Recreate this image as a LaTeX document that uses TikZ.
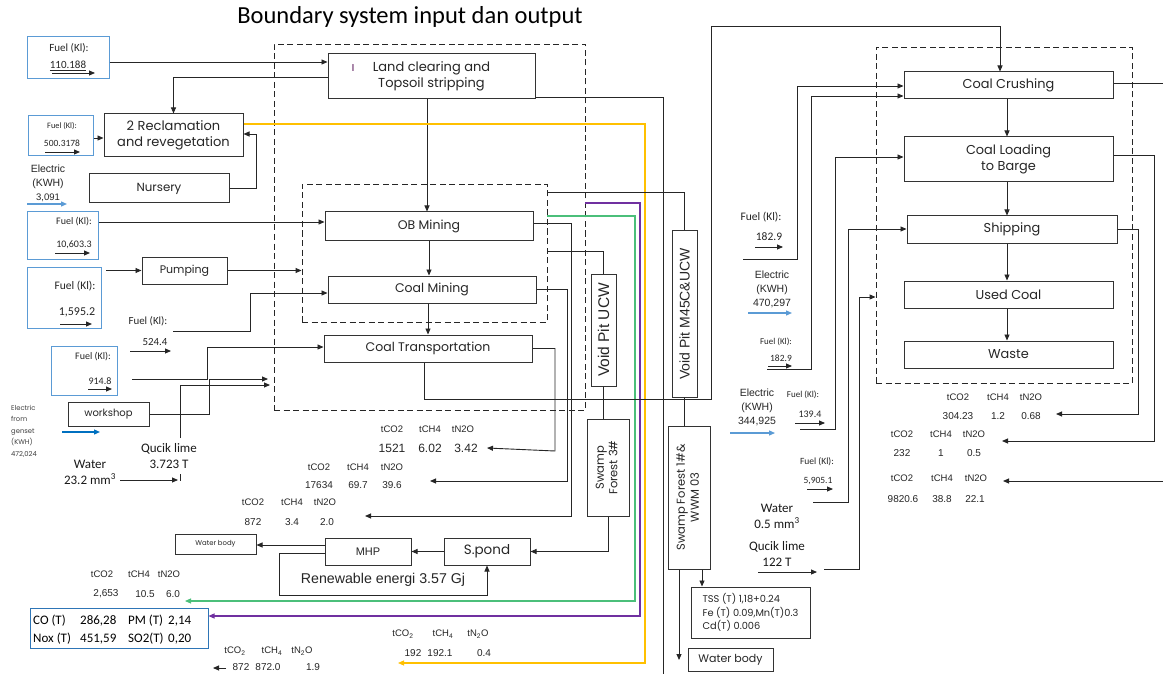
\documentclass[tikz,border=0pt]{standalone}
\usepackage{fontspec}
\usepackage{graphicx}
\setmainfont{Carlito}
\newfontfamily\gothic{Poppins}
\newfontfamily\arial{Liberation Sans}
\usetikzlibrary{arrows.meta}

\definecolor{inblue}{HTML}{5B9BD5}
\definecolor{gensetblue}{HTML}{0070C0}
\definecolor{embox}{HTML}{2E75B6}
\definecolor{flowyellow}{HTML}{FFC000}
\definecolor{flowgreen}{HTML}{4BBF7A}
\definecolor{flowpurple}{HTML}{7030A0}

\tikzset{
  ln/.style={draw=black!85, line width=0.9pt},
  arr/.style={ln, -{Triangle[length=6pt,width=5pt]}},
  box/.style={draw=black!80, line width=1pt, inner sep=1pt, align=center,
    font=\gothic\fontsize{12.5}{15}\selectfont, text=black!85},
  fuelbox/.style={draw=inblue, line width=1pt, inner sep=0pt},
  zone/.style={draw=black!85, line width=0.9pt, dash pattern=on 6pt off 3.5pt, inner sep=0pt},
  lbl/.style={inner sep=0pt, font=\fontsize{10}{11}\selectfont, text=black!85},
  big/.style={inner sep=0pt, font=\fontsize{13}{15}\selectfont, text=black!90, align=center},
  em/.style={inner sep=0pt, font=\arial\fontsize{9.5}{11}\selectfont, text=black!85},
  emv/.style={inner sep=0pt, font=\arial\fontsize{10}{11}\selectfont, text=black!85},
  elec/.style={inner sep=0pt, align=center, font=\arial\fontsize{10.5}{14}\selectfont, text=black!85},
  bluearr/.style={draw=inblue, line width=1.2pt, -{Triangle[length=6pt,width=5pt]}},
  colarr/.style={line width=1.1pt, -{Triangle[length=6pt,width=5pt]}},
}

\begin{document}
\begin{tikzpicture}[x=1pt,y=-1pt]
\fill[white] (0,0) rectangle (1163,674);
\useasboundingbox (0,0) rectangle (1163,674);

% ---------- title ----------
\node[font=\fontsize{24.5}{28}\selectfont] (title) at (410,17) {Boundary system input dan output};

% ---------- system boundaries ----------
\node[zone, minimum width=311, minimum height=366] (outer) at (429.5,227) {};
\node[zone, minimum width=245, minimum height=138] (inner) at (424.5,253) {};
\node[zone, minimum width=256, minimum height=336] (rzone) at (1004,215) {};

% ---------- mining process boxes ----------
\node[box, minimum width=207, minimum height=45, font=\gothic\fontsize{13}{16}\selectfont] (land) at (431.5,76.5) {Land clearing and\\Topsoil stripping};
\node[inner sep=0pt, font=\gothic\fontsize{10}{10}\selectfont, text=violet!60!black] (mark) at (353,68) {I};
\node[box, minimum width=139, minimum height=43, font=\gothic\fontsize{13}{16}\selectfont] (recl) at (173.5,135.5) {2 Reclamation\\and revegetation};
\node[box, minimum width=140, minimum height=29, font=\gothic\fontsize{11.8}{14}\selectfont] (nursery) at (159,188.5) {Nursery};
\node[box, minimum width=85, minimum height=27, font=\gothic\fontsize{11}{14}\selectfont] (pump) at (184.5,270.5) {Pumping};
\node[box, minimum width=81, minimum height=24, font=\gothic\fontsize{10}{12}\selectfont] (workshop) at (108.5,414) {workshop};
\node[box, minimum width=208, minimum height=28] (ob) at (429,226) {OB Mining};
\node[box, minimum width=208, minimum height=27] (cm) at (432,289.5) {Coal Mining};
\node[box, minimum width=208, minimum height=27] (ct) at (428,348.5) {Coal Transportation};

\node[box, minimum width=25, minimum height=112, font=\arial\fontsize{15.5}{17}\selectfont] (vpu) at (603.5,330) {\rotatebox{90}{Void Pit UCW}};
\node[box, minimum width=42, minimum height=97, font=\gothic\fontsize{11.5}{13.5}\selectfont] (sf3) at (608,467.5)
  {\rotatebox{90}{\begin{tabular}{@{}c@{}}Swamp\\Forest 3\#\end{tabular}}};
\node[box, minimum width=86, minimum height=27, font=\gothic\fontsize{13.5}{15}\selectfont] (spond) at (487,551.5) {S.pond};
\node[box, minimum width=86, minimum height=27, font=\arial\fontsize{11}{13}\selectfont] (mhp) at (368,551.5) {MHP};
\node[box, minimum width=81, minimum height=20, font=\gothic\fontsize{6.9}{8}\selectfont] (wb1) at (215.5,544) {Water body};

\node[box, minimum width=25, minimum height=166, font=\arial\fontsize{14}{16}\selectfont] (vpm) at (684.5,314) {\rotatebox{90}{Void Pit M45C\&UCW}};
\node[box, minimum width=42, minimum height=143, font=\gothic\fontsize{11.5}{14}\selectfont] (sf1) at (689,497.5)
  {\rotatebox{90}{\begin{tabular}{@{}c@{}}Swamp Forest 1\#\&\\WWM 03\end{tabular}}};
\node[box, minimum width=119, minimum height=51, font=\gothic\fontsize{9.8}{13.5}\selectfont, align=left] (tss) at (750.5,612.5)
  {TSS (T) 1,18+0.24\\Fe (T) 0.09,Mn(T)0.3\\Cd(T) 0.006};
\node[box, minimum width=85, minimum height=23, font=\gothic\fontsize{11}{12}\selectfont] (wb2) at (730.5,659.5) {Water body};

% ---------- port / shipping boxes ----------
\node[box, minimum width=209, minimum height=27, font=\gothic\fontsize{12.9}{15}\selectfont] (cc) at (1008.5,85.5) {Coal Crushing};
\node[box, minimum width=209, minimum height=45, font=\gothic\fontsize{12.9}{15.5}\selectfont] (cl) at (1008.5,159.5) {Coal Loading\\to Barge};
\node[box, minimum width=210, minimum height=27, font=\gothic\fontsize{12.9}{15}\selectfont] (ship) at (1012,229.5) {Shipping};
\node[box, minimum width=209, minimum height=27, font=\gothic\fontsize{12.9}{15}\selectfont] (used) at (1008.5,294.5) {Used Coal};
\node[box, minimum width=209, minimum height=27, font=\gothic\fontsize{12.9}{15}\selectfont] (waste) at (1008.5,354.5) {Waste};

% ---------- fuel input boxes (left) ----------
\node[fuelbox, minimum width=82, minimum height=42] (fuelA) at (68,58) {};
\node[lbl, font=\fontsize{11}{12}\selectfont] (fuelAt) at (69,48) {Fuel (Kl):};
\node[lbl, font=\fontsize{11}{12}\selectfont] (fuelAv) at (68,66) {\underline{110.188}};
\draw[arr] (52,73) -- (95,73);

\node[fuelbox, minimum width=65, minimum height=40] (fuelB) at (60.5,136) {};
\node[lbl, font=\fontsize{8.3}{9}\selectfont] (fuelBt) at (62,126) {Fuel (Kl):};
\node[lbl, font=\fontsize{9.5}{10}\selectfont] (fuelBv) at (62,143) {500.3178};
\draw[arr] (45,152) -- (80,152);

\node[fuelbox, minimum width=71, minimum height=47] (fuelC) at (62.5,235.5) {};
\node[lbl] (fuelCt) at (74,222) {Fuel (Kl):};
\node[lbl] (fuelCv) at (74,245) {10,603.3};
\draw[arr] (55,253) -- (90,253);

\node[fuelbox, minimum width=74, minimum height=61] (fuelD) at (64,297.5) {};
\node[lbl, font=\fontsize{11.5}{13}\selectfont] (fuelDt) at (75,286) {Fuel (Kl):};
\node[lbl, font=\fontsize{12}{13}\selectfont] (fuelDv) at (77,312) {1,595.2};
\draw[arr] (60,324) -- (92,324);

\node[lbl, font=\fontsize{10.9}{12}\selectfont] (fuelFt) at (148,321) {Fuel (Kl):};
\node[lbl, font=\fontsize{10.9}{12}\selectfont] (fuelFv) at (155,342) {524.4};
\draw[arr] (130,351) -- (171,351);

\node[fuelbox, minimum width=66, minimum height=49] (fuelE) at (84,370.5) {};
\node[lbl] (fuelEt) at (93,357) {Fuel (Kl):};
\node[lbl] (fuelEv) at (100,381) {914.8};
\draw[arr] (88,389) -- (112,389);

% electricity and other inputs (left)
\node[elec] (elecL) at (48,183) {Electric\\(KWH)\\\fontsize{9.5}{10}\selectfont 3,091};
\draw[bluearr] (27,204) -- (67,204);
\node[inner sep=0pt, anchor=north west, align=left, font=\gothic\fontsize{6.8}{11.5}\selectfont, text=black!75] (genset) at (11,405)
  {Electric\\from\\genset\\(KWH)\\472,024};
\draw[draw=gensetblue, line width=1.2pt, -{Triangle[length=6pt,width=5pt]}] (62,432) -- (100,432);
\node[big] (limeL) at (169,456) {Qucik lime\\[1pt]3.723 T};
\node[big] (waterL) at (90,472) {Water\\[1pt]23.2 mm\textsuperscript{3}};

% ---------- connectors: inputs to mining ----------
\draw[arr] (fuelA.east |- 0,62) -- (land.west |- 0,62);
\draw[arr] (land.west |- 0,77) -| (recl.north);
\draw[arr] (fuelB.east |- 0,138) -- (recl.west |- 0,138);
\draw[arr] (nursery.east) -- (256,188.5) |- (recl.east |- 0,134);
\draw[arr] (fuelC.east |- 0,222) -- (ob.west |- 0,222);
\draw[arr] (106,270.5) -- (pump.west);
\draw[arr] (pump.east) -- (inner.west |- pump.east);
\draw[arr] (173,331) -- (250,331) |- (cm.west |- 0,293);
\draw[arr] (132,379) -- (207,379) |- (ct.west |- 0,347);
\draw[arr] (workshop.east) -- (209,414) |- (268,379);
\draw[arr] (180,438) |- (270,385);
\draw[arr] (120,480) -- (178,480);
\draw[ln] (180,474) -- (180,481);

% ---------- connectors: mining chain ----------
\draw[arr] (land.south -| 427,0) -- (ob.north -| 427,0);
\draw[arr] (ob.south) -- (ob.south |- cm.north);
\draw[arr] (ct.north |- cm.south) -- (ct.north);

% ---------- emissions from mining ----------
\node[em] (e1a) at (392,429) {tCO2};
\node[em] (e1b) at (430,429) {tCH4};
\node[em] (e1c) at (463,429) {tN2O};
\node[emv, font=\arial\fontsize{12}{13}\selectfont] (e1d) at (392,448) {1521};
\node[emv, font=\arial\fontsize{12}{13}\selectfont] (e1e) at (430,448) {6.02};
\node[emv, font=\arial\fontsize{12}{13}\selectfont] (e1f) at (466,448) {3.42};

\node[em] (e2a) at (319,467) {tCO2};
\node[em] (e2b) at (358,467) {tCH4};
\node[em] (e2c) at (392,467) {tN2O};
\node[emv] (e2d) at (319,485) {17634};
\node[emv] (e2e) at (358,485) {69.7};
\node[emv] (e2f) at (392,485) {39.6};

\node[em] (e3a) at (253,502) {tCO2};
\node[em] (e3b) at (292,502) {tCH4};
\node[em] (e3c) at (325,502) {tN2O};
\node[emv] (e3d) at (253,522) {872};
\node[emv] (e3e) at (292,522) {3.4};
\node[emv] (e3f) at (327,522) {2.0};

\draw[arr] (ct.east) -| (555,451) -- (e1f.east -| 487,0);
\draw[arr] (cm.east) -| (567,481) -- (430,481);
\draw[arr] (ob.east |- 0,223) -| (571,516) -- (365,516);

% ---------- water management ----------
\draw[ln] (inner.east |- 0,251) -| (vpu.north);
\draw[ln] (vpu.south) -- (vpu.south |- sf3.north);
\draw[arr] (sf3.south) |- (spond.east);
\draw[arr] (spond.west) -- (mhp.east);
\draw[arr] (mhp.west |- 0,545) -- (wb1.east |- 0,545);
\draw[arr] (mhp.west |- 0,553) -- (279,553) -- (279,595) -| (spond.south);
\node[inner sep=0pt, font=\arial\fontsize{14.2}{16}\selectfont, text=black!85] (renew) at (383,580) {Renewable energi 3.57 Gj};

% ---------- coloured emission flows ----------
\node[em] (e4a) at (102,574) {tCO2};
\node[em] (e4b) at (139,574) {tCH4};
\node[em] (e4c) at (169,574) {tN2O};
\node[emv] (e4d) at (106,594) {2,653};
\node[emv] (e4e) at (145,594) {10.5};
\node[emv] (e4f) at (173,594) {6.0};
\draw[colarr, draw=flowgreen] (inner.east |- 0,216) -- (635,216) -- (635,601) -- (185,601);

\node[draw=embox, line width=1pt, minimum width=178, minimum height=40, inner sep=0pt] (emis) at (119,628) {};
\begin{scope}[every node/.style={inner sep=0pt, anchor=west, font=\fontsize{13}{14}\selectfont, text=black}]
\node (co1) at (33,621) {CO (T)};
\node (co2) at (80,621) {286,28};
\node (co3) at (128,621) {PM (T)};
\node (co4) at (168,621) {2,14};
\node (no1) at (33,639) {Nox (T)};
\node (no2) at (80,639) {451,59};
\node (no3) at (128,639) {SO2(T)};
\node (no4) at (168,639) {0,20};
\end{scope}
\draw[colarr, draw=flowpurple] (outer.east |- 0,203) -- (640,203) -- (640,616) -- (emis.east |- 0,616);

\node[em] (e5a) at (235,651) {tCO\textsubscript{2}};
\node[em] (e5b) at (272,651) {tCH\textsubscript{4}};
\node[em] (e5c) at (302,651) {tN\textsubscript{2}O};
\node[emv] (e5d) at (241,667) {872};
\node[emv] (e5e) at (268,667) {872.0};
\node[emv] (e5f) at (313,667) {1.9};
\draw[arr] (226,668) -- (213,668);

\node[em] (e6a) at (403,634) {tCO\textsubscript{2}};
\node[em] (e6b) at (443,634) {tCH\textsubscript{4}};
\node[em] (e6c) at (478,634) {tN\textsubscript{2}O};
\node[emv] (e6d) at (413,653) {192};
\node[emv] (e6e) at (440,653) {192.1};
\node[emv] (e6f) at (484,653) {0.4};
\draw[colarr, draw=flowyellow] (recl.east |- 0,124) -- (645,124) -- (645,663) -- (398,663);

% ---------- overburden / void pits ----------
\draw[ln] (land.east |- 0,97) -- (663,97) -- (663,674);
\draw[ln] (inner.east |- 0,192) -| (vpm.north);
\draw[ln] (vpm.south) -- (vpm.south |- sf1.north);
\draw[arr] (sf1.south -| 679,0) -- (679,660);
\draw[arr] (sf1.south -| 702,0) -- (tss.north -| 702,0);

% ---------- coal transport to port ----------
\draw[arr] (ct.south -| 424,0) -- (424,399) -- (711,399) -- (711,26) -- (1000,26) -- (cc.north -| 1000,0);

% ---------- port inputs ----------
\node[lbl, font=\fontsize{11.5}{12}\selectfont] (pf1t) at (761,217) {Fuel (Kl):};
\node[lbl, font=\fontsize{11.5}{12}\selectfont] (pf1v) at (769,237) {182.9};
\draw[arr] (755,247) -- (783,247);
\draw[arr] (743,259) -- (797,259) -- (797,86) -- (cc.west |- 0,86);

\node[elec] (pel1) at (772,289) {Electric\\(KWH)\\470,297};
\draw[bluearr] (748,313) -- (792,313);

\node[lbl, font=\fontsize{8.9}{9}\selectfont] (pf2t) at (776,342) {Fuel (Kl):};
\node[lbl, font=\fontsize{9.5}{10}\selectfont] (pf2v) at (781,358) {182.9};
\draw[arr] (768,366) -- (792,366);
\draw[arr] (767,369) -- (811,369) -- (811,96) -- (cc.west |- 0,96);

\node[elec] (pel2) at (757,407) {Electric\\(KWH)\\344,925};
\draw[bluearr] (730,433) -- (775,433);

\node[lbl, font=\fontsize{9}{10}\selectfont] (pf3t) at (803,395) {Fuel (Kl):};
\node[lbl, font=\fontsize{10}{10}\selectfont] (pf3v) at (810,414) {139.4};
\draw[arr] (795,423) -- (825,423);
\draw[arr] (800,429) -- (835,429) -- (835,157) -- (cl.west |- 0,157);

\node[lbl, font=\fontsize{9.5}{10}\selectfont] (pf4t) at (817,462) {Fuel (Kl):};
\node[lbl, font=\fontsize{9.5}{10}\selectfont] (pf4v) at (818,481) {5,905.1};
\draw[arr] (807,489) -- (833,489);
\draw[arr] (813,502) -- (848,502) -- (848,229) -- (ship.west |- 0,229);

\node[big] (waterR) at (777,516) {Water\\[1pt]0.5 mm\textsuperscript{3}};
\node[big] (limeR) at (777,554) {Qucik lime\\[1pt]122 T};
\draw[arr] (758,572) -- (817,572);
\draw[arr] (824,569) -- (859,569) -- (859,297) -- (rzone.west |- 0,297);

% ---------- port chain ----------
\draw[arr] (cc.south -| 1007,0) -- (cl.north -| 1007,0);
\draw[arr] (cl.south -| 1007,0) -- (ship.north -| 1007,0);
\draw[arr] (ship.south -| 1007,0) -- (used.north -| 1007,0);
\draw[arr] (used.south -| 1007,0) -- (waste.north -| 1007,0);

% ---------- port emissions ----------
\node[em] (r1a) at (958,397) {tCO2};
\node[em] (r1b) at (998,397) {tCH4};
\node[em] (r1c) at (1031,397) {tN2O};
\node[emv] (r1d) at (958,416) {304.23};
\node[emv] (r1e) at (998,416) {1.2};
\node[emv] (r1f) at (1031,416) {0.68};

\node[em] (r2a) at (902,434) {tCO2};
\node[em] (r2b) at (941,434) {tCH4};
\node[em] (r2c) at (974,434) {tN2O};
\node[emv] (r2d) at (902,453) {232};
\node[emv] (r2e) at (941,453) {1};
\node[emv] (r2f) at (974,453) {0.5};

\node[em] (r3a) at (902,478) {tCO2};
\node[em] (r3b) at (942,478) {tCH4};
\node[em] (r3c) at (976,478) {tN2O};
\node[emv] (r3d) at (903,499) {9820.6};
\node[emv] (r3e) at (942,499) {38.8};
\node[emv] (r3f) at (975,499) {22.1};

\draw[ln] (cc.east |- 0,83) -- (1163,83);
\draw[arr] (cl.east |- 0,155) -- (1154,155) -- (1154,441) -- (1002,441);
\draw[arr] (ship.east) -- (1138,229.5) -- (1138,414) -- (1056,414);
\draw[arr] (1163,481) -- (1003,481);

\end{tikzpicture}
\end{document}
